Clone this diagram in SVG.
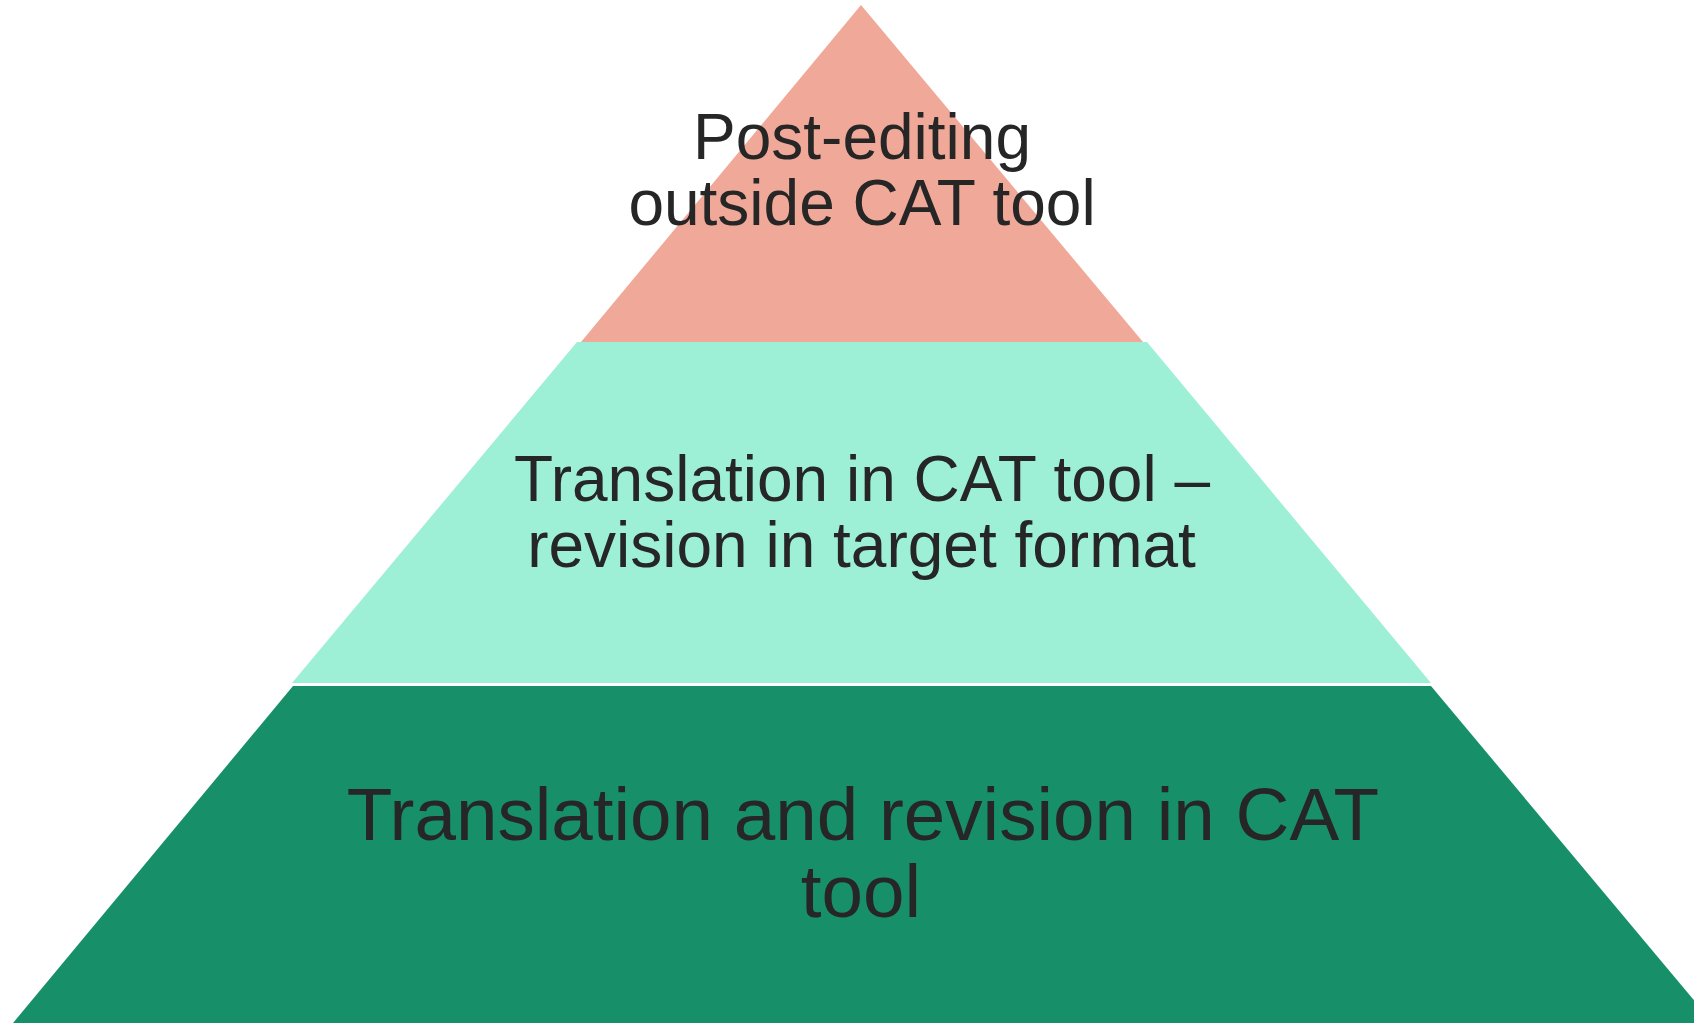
<svg xmlns="http://www.w3.org/2000/svg" width="1694" height="1023" viewBox="0 0 1694 1023">
  <style>
    .lbl { font-family: "Liberation Sans", Arial, sans-serif; fill: #262626; text-anchor: middle; }
    .s64 { font-size: 64px; }
    .s75 { font-size: 74.6px; }
  </style>
  <rect width="1694" height="1023" fill="#ffffff"/>
  <g id="tier-top">
    <polygon points="861,5 1143,342 581,342" fill="#F0A899"/>
    <text class="lbl s64" x="862" y="159">Post-editing</text>
    <text class="lbl s64" x="862" y="225">outside CAT tool</text>
  </g>
  <g id="tier-middle">
    <polygon points="577,342 1147,342 1431,683 292,683" fill="#9DF0D5"/>
    <text class="lbl s64" x="862" y="501">Translation in CAT tool –</text>
    <text class="lbl s64" x="861.5" y="567">revision in target format</text>
  </g>
  <g id="tier-bottom">
    <polygon points="293,686 1431,686 1713,1023 13,1023" fill="#178F69"/>
    <text class="lbl s75" x="863" y="840">Translation and revision in CAT</text>
    <text class="lbl s75" x="861" y="917">tool</text>
  </g>
  <g id="connectors"/>
</svg>
